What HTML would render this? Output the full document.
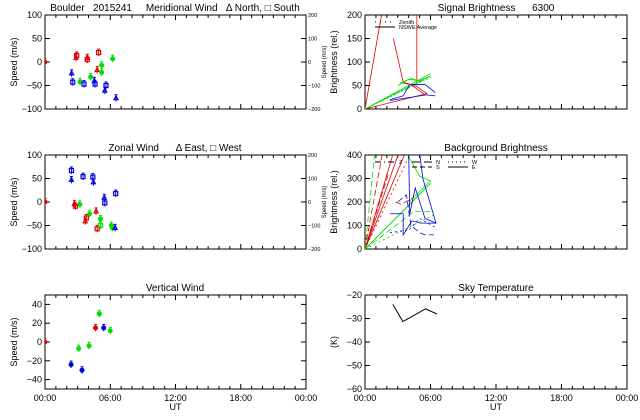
<!DOCTYPE html>
<html><head><meta charset="utf-8"><style>
html,body{margin:0;padding:0;background:#fff;}
svg{display:block;font-family:"Liberation Sans",sans-serif;}
text{white-space:pre;}
</style></head><body>
<svg id="c" width="640" height="420" viewBox="0 0 640 420" xmlns="http://www.w3.org/2000/svg"></svg>
<script>
// ---- data (hours UT, values) ----
const merH   = [0,2.91,2.85,3.89,3.89,4.93,4.8,2.45,2.55,3.22,3.59,4.2,4.54,4.6,5.21,5.21,5.61,5.5,6.22,6.53];
const merV   = [0,14,9,5,9,20,-17,-24,-43,-42,-47,-32,-40,-47,-7,-22,-50,-61,7,-77];
const merC   = ['r','r','r','r','r','r','r','b','b','g','b','g','b','b','g','g','b','b','g','b'];
const merM   = ['c','s','t','s','t','s','t','t','s','c','s','c','t','s','c','c','s','t','c','t'];
const zonH   = [0,2.43,2.43,2.7,2.8,3.2,3.5,4.4,4.45,3.8,3.7,4.1,4.7,5.1,4.8,5.1,5.45,5.5,6.5,6.1,6.2,6.45];
const zonV   = [0,67,47,-4,-9,-5,54,53,42,-34,-41,-25,-20,-36,-57,-50,9,-2,18,-50,-55,-55];
const zonC   = ['r','b','b','r','r','g','b','b','b','r','r','g','r','g','r','g','b','b','b','g','g','b'];
const zonM   = ['c','s','t','t','s','c','s','s','t','s','t','c','t','c','s','s','t','s','s','c','c','t'];
const verH   = [0,2.4,3.4,3.1,4.05,4.65,5.0,5.4,6.0];
const verV   = [0,-24,-30,-7,-4,15,30,15,12];
const verC   = ['r','b','b','g','g','r','g','b','g'];
const tmpH   = [2.55,3.47,5.55,6.6];
const tmpV   = [-24,-31.3,-25.9,-28.1];
const sigLines = [
 ['r','', [0,1.55],[0,205]],
 ['r','', [2.6,3.5,4.75,5.7],[150,57,48,32]],
 ['r','', [4.75,4.75],[50,205]],
 ['r','', [0,5.7],[0,33]],
 ['g','', [0,6.0],[0,75]],
 ['g','', [0,6.0],[0,70]],
 ['g','2,2', [0,6.0],[0,67]],
 ['g','', [3.0,4.0,5.0,6.0],[50,63,60,70]],
 ['g','', [3.2,4.2,5.2],[55,65,58]],
 ['b','', [2.3,3.5,4.1,5.5,6.45],[20,28,52,52,35]],
 ['b','', [2.3,5.6,6.45],[18,30,28]],
 ['r','', [3.5,4.2,5.5],[55,52,30]]
];
const bgLines = [
 ['r','', [0,2.6],[0,410]],
 ['r','', [0,3.1],[0,410]],
 ['r','', [0,3.7],[0,410]],
 ['r','6,3', [0,1.6],[0,410]],
 ['r','2,3', [0,4.2],[0,410]],
 ['r','6,3', [0,2.2],[0,330]],
 ['g','6,3', [0,0.9],[0,410]],
 ['g','', [0,6.0],[0,280]],
 ['g','', [0,5.6],[0,260]],
 ['g','', [3.8,5.0,6.0,4.0],[410,310,290,200]],
 ['g','6,3', [0,4.5,6.3],[0,160,160]],
 ['g','2,3', [0,6.5],[0,150]],
 ['b','', [4.0,4.1,4.6,5.5,6.5,5.3,5.0],[410,150,260,130,110,300,410]],
 ['b','', [2.3,3.5,3.5,4.3,5.1,5.6,6.5],[150,150,60,120,110,110,110]],
 ['b','6,3', [3.0,3.8,4.2,5.0,5.5,6.3],[200,230,100,70,60,60]],
 ['b','2,3', [2.3,4.0,5.0,6.5],[70,80,130,90]],
 ['r','6,3', [2.8,3.3,4.5],[200,190,220]]
];
const xTicks = ['00:00','06:00','12:00','18:00','00:00'];
const xTickH = [0,6,12,18,24];

const svg=document.getElementById('c');
const NS='http://www.w3.org/2000/svg';
const COL={r:'#e00000',g:'#00e000',b:'#0000e0',k:'#000'};
function el(tag,attrs,parent){const e=document.createElementNS(NS,tag);for(const k in attrs)e.setAttribute(k,attrs[k]);(parent||svg).appendChild(e);return e;}
function txt(x,y,s,size,anchor,rot,parent){const t=el('text',{x:x,y:y,'font-size':size,'text-anchor':anchor||'middle',fill:'#000'},parent);if(rot)t.setAttribute('transform','rotate(-90 '+x+' '+y+')');t.textContent=s;return t;}

function panel(name,x0,x1,y0,y1,ymin,ymax,yt,title,tx,ylabel,showX,rightAxis){
  const g=el('g',{});
  
  
  const sx=h=>x0+(x1-x0)*h/24, sy=v=>y1-(y1-y0)*(v-ymin)/(ymax-ymin);
  const cid='clip-'+name;
  const cp=el('clipPath',{id:cid},g);el('rect',{x:x0,y:y0,width:x1-x0,height:y1-y0},cp);
  const fr=el('rect',{x:x0,y:y0,width:x1-x0,height:y1-y0,fill:'none',stroke:'#000','stroke-width':1},g);
  
  
  for(let h=1;h<24;h++){const len=h%6==0?5:3;const X=sx(h);
    el('line',{x1:X,x2:X,y1:y1,y2:y1-len,stroke:'#000'},g);el('line',{x1:X,x2:X,y1:y0,y2:y0+len,stroke:'#000'},g);}
  yt.forEach(v=>{const Y=sy(v);el('line',{x1:x0,x2:x0+5,y1:Y,y2:Y,stroke:'#000'},g);el('line',{x1:x1,x2:x1-5,y1:Y,y2:Y,stroke:'#000'},g);
    const t=txt(x0-3,Y+3,String(v).replace('-','−'),9,'end',false,g);});
  if(rightAxis){yt.forEach(v=>{const t=txt(x1+2,sy(v)+2,String(v*2).replace('-','−'),5.5,'start',false,g);});
    const r=txt(x1+20,(y0+y1)/2,'Speed (m/s)',6,'middle',true,g);}
  const tt=txt(tx,y0-4,title,10,'middle',false,g);
  const yl=txt(x0-28,(y0+y1)/2,ylabel,9,'middle',true,g);
  if(showX){xTicks.forEach((s,i)=>{const t=txt(sx(xTickH[i]),y1+12,s,9,'middle',false,g);});
    const u=txt((x0+x1)/2,y1+21,'UT',9,'middle',false,g);}
  const data=el('g',{'clip-path':'url(#'+cid+')'},g);
  return {sx,sy,g:data};
}
function marker(p,h,v,c,m){
  const X=p.sx(h),Y=p.sy(v),col=COL[c];let e;
  if(m=='c'){e=el('circle',{cx:X,cy:Y,r:2.5,fill:col},p.g);}
  else if(m=='s'){e=el('rect',{x:X-2,y:Y-2,width:4,height:4,fill:'none',stroke:col,'stroke-width':1.2},p.g);}
  else {e=el('polygon',{points:(X-2)+','+(Y+1.5)+' '+(X+2)+','+(Y+1.5)+' '+X+','+(Y-2.5),fill:'none',stroke:col,'stroke-width':1.2},p.g);}
  
  
  el('line',{x1:X,x2:X,y1:Y-3.5,y2:Y+3.5,stroke:col},p.g);
  el('line',{x1:X-1.5,x2:X+1.5,y1:Y-3.5,y2:Y-3.5,stroke:col},p.g);
}
function lines(p,arr){arr.forEach(L=>{const pts=L[2].map((h,i)=>p.sx(h)+','+p.sy(L[3][i])).join(' ');
  const e=el('polyline',{points:pts,fill:'none',stroke:COL[L[0]],'stroke-width':0.8},p.g);if(L[1])e.setAttribute('stroke-dasharray',L[1]);
  
  });}

const LX0=45,LX1=306,RX0=365,RX1=627;
const p1=panel('meridional-wind-panel',LX0,LX1,15,109,-100,100,[-100,-50,0,50,100],'Boulder   2015241     Meridional Wind   Δ North, □ South',175,'Speed (m/s)',false,true);
merH.forEach((h,i)=>marker(p1,h,merV[i],merC[i],merM[i]));
const p2=panel('zonal-wind-panel',LX0,LX1,155,249,-100,100,[-100,-50,0,50,100],'Zonal Wind      Δ East, □ West',175,'Speed (m/s)',false,true);
zonH.forEach((h,i)=>marker(p2,h,zonV[i],zonC[i],zonM[i]));
const p3=panel('vertical-wind-panel',LX0,LX1,295,389,-50,50,[-40,-20,0,20,40],'Vertical Wind',175,'Speed (m/s)',true,false);
verH.forEach((h,i)=>marker(p3,h,verV[i],verC[i],'c'));
const p4=panel('signal-brightness-panel',RX0,RX1,15,109,0,200,[0,50,100,150,200],'Signal Brightness      6300',496,'Brightness (rel.)',false,false);
lines(p4,sigLines);
const p5=panel('background-brightness-panel',RX0,RX1,155,249,0,400,[0,100,200,300,400],'Background Brightness',496,'Brightness (rel.)',false,false);
lines(p5,bgLines);
const p6=panel('sky-temperature-panel',RX0,RX1,295,389,-60,-20,[-60,-50,-40,-30,-20],'Sky Temperature',496,'(K)',true,false);
{const e=el('polyline',{points:tmpH.map((h,i)=>p6.sx(h)+','+p6.sy(tmpV[i])).join(' '),fill:'none',stroke:'#000'},p6.g);
 }
function leg(x,y,dash,label,col){const g=el('g',{});
  const l=el('line',{x1:x,x2:x+20,y1:y,y2:y,stroke:col||'#000'},g);if(dash)l.setAttribute('stroke-dasharray',dash);txt(x+24,y+2,label,5.5,'start',false,g);}
leg(375,22,'1,4','Zenith');leg(375,27,'','NSWE Average');
leg(375,162,'6,3,1,3','Z');leg(412,162,'8,4','N');leg(412,167,'5,3','S');leg(448,162,'1,3','W');leg(448,167,'','E');
</script>
</body></html>
